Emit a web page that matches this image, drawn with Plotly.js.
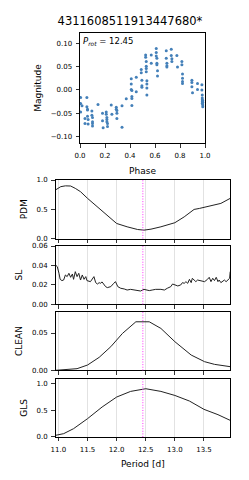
<!DOCTYPE html>
<html><head><meta charset="utf-8">
<script src="https://cdn.plot.ly/plotly-3.0.1.min.js"></script>
<style>html,body{margin:0;padding:0;background:#fff}#chart{width:249px;height:480px}</style>
</head><body><div id="chart"></div>
<script>
// ---- data ----
const starTitle = "4311608511913447680*";
const pRot = 12.45;

const phase = [
0.005,0.005,0.005,0.016,0.04,0.04,0.055,0.055,0.06,0.06,0.06,0.065,0.065,
0.095,0.095,0.10,0.10,0.10,0.10,0.144,0.18,0.18,0.185,0.21,0.21,0.215,0.215,0.215,0.22,0.22,
0.25,0.255,0.29,0.29,0.295,0.295,0.295,0.336,0.336,0.37,
0.41,0.41,0.41,0.415,0.415,0.415,0.415,0.45,0.45,0.49,0.49,0.495,0.495,0.495,
0.525,0.525,0.53,0.53,0.53,0.53,0.535,0.535,0.535,0.535,0.57,0.57,
0.61,0.61,0.61,0.615,0.615,0.615,0.62,0.62,0.69,0.69,0.695,0.695,0.695,
0.73,0.73,0.735,0.735,0.775,0.78,0.815,0.815,0.82,0.82,0.82,0.82,
0.895,0.895,0.895,0.9,0.94,0.94,0.975,0.975,0.978,0.978,0.978,0.978,0.978,0.982,0.982,0.982,0.982
];
const mag = [
-0.016,-0.029,-0.047,-0.034,-0.061,-0.072,-0.016,-0.036,-0.041,-0.043,-0.056,-0.063,-0.073,
-0.045,-0.054,-0.059,-0.068,-0.072,-0.077,-0.031,-0.050,-0.066,-0.081,-0.047,-0.052,-0.059,-0.063,-0.068,-0.072,-0.078,
-0.032,-0.052,-0.037,-0.041,-0.044,-0.050,-0.061,-0.034,-0.080,-0.019,
0.024,0.013,0.001,-0.001,-0.014,-0.018,-0.033,0.027,-0.004,0.044,0.037,0.021,0.009,0.006,
0.075,0.070,0.061,0.051,0.046,0.039,0.020,0.013,0.004,-0.011,0.075,0.057,
0.089,0.080,0.073,0.068,0.057,0.054,0.041,0.030,0.084,0.068,0.057,0.049,0.052,
0.087,0.074,0.067,0.061,0.074,0.049,0.061,0.054,0.034,0.025,0.018,0.014,
0.021,0.016,0.007,-0.006,0.014,0.001,0.011,0.000,-0.011,-0.017,-0.021,-0.025,-0.029,-0.032,-0.036,-0.023,-0.027
];

const pdmPeriod = [10.95,11.04,11.12,11.21,11.29,11.38,11.50,11.67,11.84,12.00,12.18,12.36,12.47,12.59,12.76,13.00,13.16,13.33,13.42,13.50,13.61,13.79,13.95];
const pdmValue  = [0.83,0.886,0.90,0.897,0.857,0.80,0.686,0.543,0.40,0.257,0.20,0.154,0.143,0.16,0.20,0.27,0.37,0.497,0.514,0.53,0.56,0.60,0.686];

const slPeriod = [10.95,10.98,11.01,11.03,11.06,11.09,11.12,11.15,11.18,11.21,11.24,11.26,11.29,11.32,11.35,11.38,11.41,11.44,11.47,11.49,
11.55,11.61,11.64,11.67,11.70,11.72,11.75,11.78,11.81,11.84,11.90,11.95,11.98,12.02,12.07,12.13,12.18,12.24,12.30,12.36,12.41,12.47,12.50,
12.56,12.61,12.67,12.76,12.82,12.87,12.93,12.96,13.00,13.05,13.10,13.13,13.16,13.19,13.22,13.25,13.28,13.30,13.33,13.36,13.39,13.45,
13.51,13.56,13.59,13.62,13.65,13.68,13.71,13.74,13.76,13.79,13.85,13.88,13.91,13.94,13.95];
const slValue = [0.0405,0.0388,0.0319,0.0257,0.0244,0.0250,0.0302,0.0285,0.0319,0.0278,0.0312,0.0257,0.0336,0.0285,0.0319,0.0250,0.0302,0.0257,0.0285,0.0244,
0.0233,0.0285,0.0223,0.0209,0.0223,0.0216,0.0230,0.0199,0.0182,0.0172,0.0182,0.0216,0.0233,0.0182,0.0165,0.0158,0.0147,0.0154,0.0147,0.0141,0.0137,0.0154,0.0147,
0.0141,0.0147,0.0154,0.0154,0.0147,0.0165,0.0182,0.0209,0.0199,0.0189,0.0199,0.0223,0.0216,0.0233,0.0216,0.0257,0.0223,0.0268,0.0250,0.0233,0.0250,0.0244,
0.0233,0.0257,0.0278,0.0233,0.0268,0.0244,0.0278,0.0233,0.0250,0.0223,0.0250,0.0233,0.0250,0.0268,0.0336];

const cleanPeriod = [10.95,11.09,11.32,11.50,11.70,11.90,12.10,12.33,12.56,12.76,13.00,13.28,13.51,13.68,13.95];
const cleanValue  = [0.0,0.0009,0.0022,0.0071,0.0174,0.0317,0.0495,0.0651,0.0651,0.0562,0.0384,0.0205,0.0116,0.0080,0.0049];

const glsPeriod = [10.95,11.09,11.26,11.50,11.75,12.00,12.24,12.50,12.76,13.00,13.25,13.50,13.74,13.95];
const glsValue  = [0.031,0.0625,0.156,0.344,0.5625,0.75,0.856,0.906,0.856,0.78,0.675,0.519,0.419,0.3125];

const periodTicks = [11.0,11.5,12.0,12.5,13.0,13.5];

// ---- plot ----
const FONT = "DejaVu Sans, sans-serif";
const lineStyle = {color:'#222', width:1};
const traces = [
  {x:phase, y:mag, xaxis:'x', yaxis:'y', type:'scatter', mode:'markers',
   marker:{color:'#4480b9', size:3}, cliponaxis:true, hoverinfo:'skip'},
  {x:pdmPeriod, y:pdmValue, xaxis:'x2', yaxis:'y2', type:'scatter', mode:'lines', line:lineStyle},
  {x:slPeriod, y:slValue, xaxis:'x3', yaxis:'y3', type:'scatter', mode:'lines', line:lineStyle},
  {x:cleanPeriod, y:cleanValue, xaxis:'x4', yaxis:'y4', type:'scatter', mode:'lines', line:lineStyle},
  {x:glsPeriod, y:glsValue, xaxis:'x5', yaxis:'y5', type:'scatter', mode:'lines', line:lineStyle}
];

const tickFont = {family:FONT, size:7, color:'#000'};
const titleFont = {family:FONT, size:9, color:'#000'};
const axBase = {showline:true, mirror:true, linecolor:'#000', linewidth:1, ticks:'outside', ticklen:3.5,
  tickwidth:0.8, tickcolor:'#000', tickfont:tickFont, ticklabelstandoff:2, zeroline:false, showgrid:false, fixedrange:true};

const px = [0.2229, 0.9245];
function perX(anchor, showLabels){
  return Object.assign({}, axBase, {domain:px, anchor:anchor, range:[10.95,13.95],
    tickvals:periodTicks, ticktext:periodTicks.map(v=>v.toFixed(1)), showticklabels:showLabels,
    showgrid:true, gridcolor:'#e2e2e2', gridwidth:1});
}
function perY(dom, anchor, range, dtick, fmt, title){
  return Object.assign({}, axBase, {domain:dom, anchor:anchor, range:range, dtick:dtick, tick0:0,
    tickformat:fmt, title:{text:title, font:titleFont, standoff:7}});
}

const yRangeCLEAN = [0, 0.0786];
const yRangeGLS = [0, 1.094];

const layout = {
  width:249, height:480, margin:{l:0,r:0,t:0,b:0}, showlegend:false,
  paper_bgcolor:'#fff', plot_bgcolor:'#fff', font:{family:FONT, color:'#000'},
  title:{text:starTitle, font:{family:FONT, size:11.5, color:'#000'}, x:0.522, xanchor:'center', xref:'paper',
         y:1-21/480, yanchor:'middle', yref:'paper'},
  xaxis:Object.assign({}, axBase, {domain:[80/249, 205/249], anchor:'y', range:[0,1], dtick:0.2, tick0:0,
    tickformat:'.1f', title:{text:'Phase', font:titleFont, standoff:8}}),
  yaxis:Object.assign({}, axBase, {domain:[(480-143)/480, (480-33)/480], anchor:'x', range:[-0.1135,0.122],
    tickvals:[-0.10,-0.05,0,0.05,0.10], ticktext:['\u22120.10','\u22120.05','0.00','0.05','0.10'],
    title:{text:'Magnitude', font:titleFont, standoff:7}}),
  xaxis2:perX('y2',false),
  yaxis2:perY([0.5031,0.625],'x2',[0,1],0.5,'.1f','PDM'),
  xaxis3:Object.assign(perX('y3',false),{matches:'x2'}),
  yaxis3:perY([0.3660,0.4875],'x3',[0,0.06],0.02,'.2f','SL'),
  xaxis4:Object.assign(perX('y4',false),{matches:'x2'}),
  yaxis4:perY([0.2285,0.3506],'x4',yRangeCLEAN,0.05,'.2f','CLEAN'),
  xaxis5:Object.assign(perX('y5',true),{matches:'x2', title:{text:'Period [d]', font:titleFont, standoff:7}}),
  yaxis5:perY([0.0896,0.2110],'x5',yRangeGLS,0.5,'.1f','GLS'),
  shapes:['2','3','4','5'].map(k=>({type:'line', xref:'x'+k, yref:'y'+k+' domain', x0:pRot, x1:pRot, y0:0, y1:1,
    line:{color:'#ff33ff', width:1, dash:'1px,1.6px'}, layer:'above'})),
  annotations:[{xref:'x domain', yref:'y domain', x:0.01, y:0.99, xanchor:'left', yanchor:'top', showarrow:false,
    text:'<i>P</i><sub><i>rot</i></sub> = '+pRot.toFixed(2), font:{family:FONT, size:8.5, color:'#000'}}]
};

Plotly.newPlot('chart', traces, layout, {staticPlot:true, displayModeBar:false});
</script></body></html>
